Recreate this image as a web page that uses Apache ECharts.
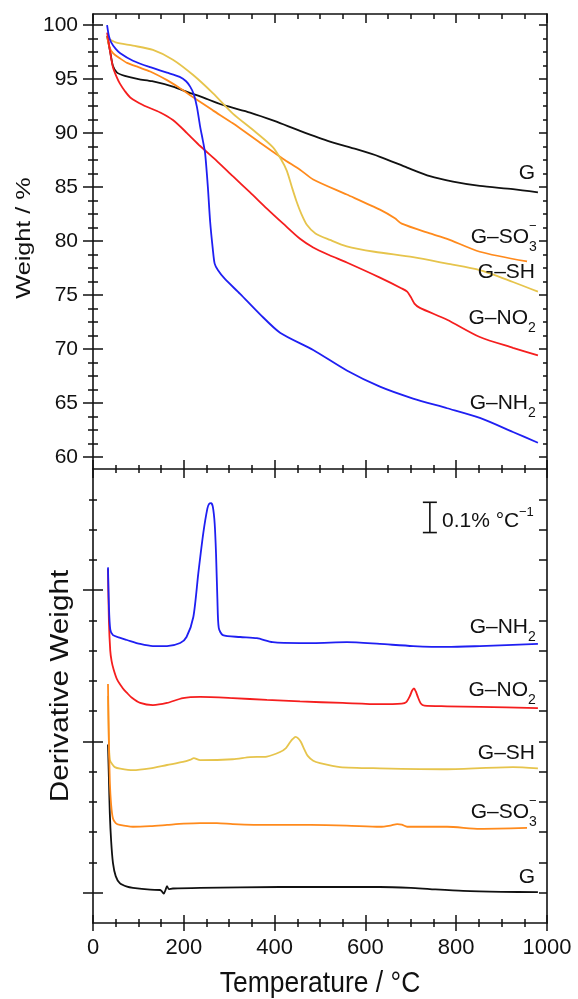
<!DOCTYPE html>
<html>
<head>
<meta charset="utf-8">
<script src="https://cdn.jsdelivr.net/npm/echarts@6/dist/echarts.min.js"></script>
<style>
  html, body { margin: 0; padding: 0; background: #fff; }
  #chart { width: 578px; height: 999px; }
</style>
</head>
<body>
<div id="chart"></div>
<script>
// ---------- TGA: weight (%) vs temperature (°C) ----------
var gTemp    = [31, 38, 44, 53, 70, 100, 130, 176, 214, 236, 286, 346, 401, 456, 522, 580, 632, 692, 742, 793, 852, 925, 980];
var gWeight  = [99.0, 97.5, 96.2, 95.6, 95.3, 95.0, 94.8, 94.3, 93.7, 93.4, 92.6, 91.9, 91.1, 90.2, 89.2, 88.5, 87.8, 86.8, 86.0, 85.5, 85.1, 84.8, 84.5];

var so3Temp   = [31, 36, 44, 60, 75, 100, 126, 163, 190, 214, 264, 308, 368, 419, 456, 485, 559, 632, 665, 680, 742, 780, 852, 956];
var so3Weight = [99.0, 98.0, 97.4, 96.9, 96.5, 96.1, 95.7, 94.9, 94.2, 93.5, 92.1, 90.9, 89.1, 87.6, 86.6, 85.7, 84.3, 82.9, 82.1, 81.6, 80.7, 80.2, 79.0, 78.1];

var shTemp   = [31, 50, 88, 132, 176, 220, 264, 308, 352, 396, 415, 427, 438, 448, 458, 471, 490, 522, 559, 620, 705, 780, 852, 925, 980];
var shWeight = [98.8, 98.4, 98.1, 97.7, 96.8, 95.4, 93.7, 91.8, 90.3, 88.7, 87.5, 86.5, 85.0, 83.7, 82.6, 81.5, 80.7, 80.1, 79.5, 79.0, 78.5, 77.9, 77.3, 76.2, 75.3];

var no2Temp   = [31, 34, 37, 44, 52, 59, 70, 82, 110, 148, 176, 207, 236, 273, 308, 346, 383, 419, 456, 485, 520, 559, 632, 680, 692, 700, 708, 720, 780, 852, 925, 980];
var no2Weight = [99.3, 98.6, 97.7, 96.1, 95.2, 94.6, 93.9, 93.3, 92.6, 91.9, 91.2, 90.0, 88.8, 87.4, 86.0, 84.5, 83.0, 81.6, 80.2, 79.4, 78.7, 78.0, 76.6, 75.6, 75.3, 74.8, 74.2, 73.8, 72.7, 71.1, 70.1, 69.4];

var nh2Temp   = [31, 35, 40, 50, 60, 88, 126, 163, 191, 205, 214, 222, 229, 236, 242, 247, 253, 258, 264, 268, 275, 290, 324, 368, 412, 485, 559, 632, 705, 780, 852, 925, 980];
var nh2Weight = [100, 99.0, 98.4, 97.8, 97.4, 96.7, 96.1, 95.6, 95.2, 94.8, 94.3, 93.6, 92.4, 90.6, 89.3, 88.1, 85.0, 81.8, 79.2, 77.9, 77.3, 76.5, 75.1, 73.2, 71.5, 69.9, 68.0, 66.5, 65.4, 64.5, 63.6, 62.3, 61.3];

// ---------- DTG: derivative weight, curves stacked with offsets ----------
var nh2DtgTemp = [33, 35, 38, 44, 60, 75, 104, 132, 163, 192, 206, 221, 232, 243, 252, 256, 260, 264, 268, 271, 274, 277, 286, 324, 361, 396, 456, 485, 559, 632, 705, 780, 852, 980];
var nh2Dtg     = [1.075, 0.95, 0.87, 0.851, 0.842, 0.835, 0.822, 0.815, 0.815, 0.825, 0.845, 0.911, 1.056, 1.189, 1.27, 1.285, 1.287, 1.275, 1.22, 1.12, 0.97, 0.875, 0.851, 0.845, 0.841, 0.828, 0.825, 0.825, 0.828, 0.822, 0.815, 0.812, 0.815, 0.822];

var no2DtgTemp = [33, 35, 38, 41, 45, 53, 66, 75, 85, 104, 132, 163, 198, 236, 308, 383, 456, 550, 632, 680, 690, 698, 703, 707, 711, 716, 722, 730, 780, 852, 980];
var no2Dtg     = [1.07, 0.90, 0.80, 0.765, 0.74, 0.705, 0.675, 0.66, 0.645, 0.627, 0.62, 0.627, 0.643, 0.647, 0.643, 0.637, 0.632, 0.627, 0.623, 0.625, 0.63, 0.65, 0.668, 0.675, 0.665, 0.645, 0.625, 0.618, 0.616, 0.614, 0.61];

var shDtgTemp = [33, 35, 37, 42, 48, 60, 88, 126, 163, 198, 215, 222, 236, 308, 346, 383, 412, 425, 434, 440, 446, 452, 458, 466, 473, 485, 500, 544, 632, 780, 925, 980];
var shDtg     = [0.65, 0.5, 0.44, 0.425, 0.415, 0.41, 0.405, 0.411, 0.422, 0.432, 0.44, 0.445, 0.438, 0.441, 0.448, 0.45, 0.465, 0.478, 0.497, 0.508, 0.515, 0.51, 0.498, 0.472, 0.452, 0.436, 0.428, 0.415, 0.411, 0.408, 0.415, 0.411];

var so3DtgTemp = [33, 35, 37, 40, 44, 50, 59, 88, 126, 163, 200, 236, 273, 308, 383, 480, 559, 632, 655, 670, 680, 692, 730, 780, 852, 956];
var so3Dtg     = [0.69, 0.50, 0.37, 0.29, 0.245, 0.23, 0.224, 0.218, 0.22, 0.224, 0.228, 0.23, 0.23, 0.227, 0.224, 0.224, 0.222, 0.218, 0.222, 0.227, 0.225, 0.218, 0.218, 0.218, 0.211, 0.214];

var gDtgTemp = [33, 35, 37, 40, 44, 50, 59, 75, 88, 126, 148, 152, 156, 160, 163, 167, 176, 236, 412, 632, 700, 742, 815, 900, 980];
var gDtg     = [0.49, 0.38, 0.263, 0.17, 0.098, 0.055, 0.032, 0.02, 0.016, 0.01, 0.009, 0.004, -0.003, 0.01, 0.022, 0.012, 0.014, 0.016, 0.019, 0.019, 0.016, 0.012, 0.006, 0.003, 0.002];

// scale bar: 0.1 % per °C, [temperature, low, high]
var scaleBar = [742, 1.19, 1.29];

// ---------- ticks ----------
var tempTicks   = [0, 200, 400, 600, 800, 1000];
var weightTicks = [60, 65, 70, 75, 80, 85, 90, 95, 100];
var dtgMajor    = [0, 0.5, 1.0];

var TEMP_RANGE   = [0, 1000];
var WEIGHT_RANGE = [58.87, 101.03];
var DTG_RANGE    = [-0.1, 1.4];

function steps(from, to, step) {
  var out = [];
  for (var v = from; v <= to + 1e-9; v += step) out.push(Math.round(v * 1000) / 1000);
  return out;
}
function notIn(list) {
  return function (v) { return list.indexOf(v) < 0; };
}
var tempMinor   = steps(0, 1000, 50).filter(notIn(tempTicks));
var weightMinor = steps(60, 100, 1.25).filter(notIn(weightTicks));
var dtgAll      = steps(0, 1.3, 0.1);
var dtgMinor    = dtgAll.filter(notIn(dtgMajor));

var FONT = '"Liberation Sans", Arial, Helvetica, sans-serif';
var INK = '#111';
var C_G = '#111111', C_SO3 = '#ff8a1c', C_SH = '#e6c44c', C_NO2 = '#f51e1e', C_NH2 = '#1f1ff2';

function zip(xs, ys) {
  var out = [];
  for (var i = 0; i < xs.length; i++) out.push([xs[i], ys[i]]);
  return out;
}

// one axis; several are stacked on the same edge to get ticks crossing the frame
function ax(grid, pos, range, o) {
  o = o || {};
  var a = {
    type: 'value', gridIndex: grid, position: pos, min: range[0], max: range[1],
    axisLine: { show: !!o.line, onZero: false, lineStyle: { color: INK, width: 1.6 } },
    axisTick: o.ticks ? { show: true, inside: !!o.inside, length: o.len, customValues: o.ticks,
                          lineStyle: { color: INK, width: 1.5 } } : { show: false },
    axisLabel: { show: false },
    splitLine: { show: false },
    minorTick: { show: false },
    axisPointer: { show: false }
  };
  if (o.labels) {
    a.axisLabel = { show: true, customValues: o.labels, margin: o.margin,
                    color: INK, fontFamily: FONT, fontSize: o.fontSize,
                    formatter: function (v) { return String(v); } };
  }
  return a;
}

var xAxes = [
  ax(0, 'bottom', TEMP_RANGE, { line: true, ticks: tempTicks, len: 9, inside: true }),   // 0 (series top)
  ax(0, 'bottom', TEMP_RANGE, { ticks: tempMinor, len: 4, inside: true }),
  ax(0, 'top',    TEMP_RANGE, { line: true, ticks: tempTicks, len: 9, inside: true }),
  ax(0, 'top',    TEMP_RANGE, { ticks: tempMinor, len: 5, inside: true }),
  ax(1, 'bottom', TEMP_RANGE, { line: true, ticks: tempTicks, len: 8, inside: false,
                                labels: tempTicks, margin: 14, fontSize: 22 }),        // 4 (series bottom)
  ax(1, 'bottom', TEMP_RANGE, { ticks: tempTicks, len: 8, inside: true }),
  ax(1, 'bottom', TEMP_RANGE, { ticks: tempMinor, len: 4, inside: false }),
  ax(1, 'bottom', TEMP_RANGE, { ticks: tempMinor, len: 4, inside: true }),
  ax(1, 'top',    TEMP_RANGE, { ticks: tempTicks, len: 9, inside: true }),
  ax(1, 'top',    TEMP_RANGE, { ticks: tempMinor, len: 4, inside: true })
];

var yAxes = [
  ax(0, 'left',  WEIGHT_RANGE, { line: true, ticks: weightTicks, len: 10, inside: false,
                                 labels: weightTicks, margin: 15, fontSize: 21 }),     // 0 (series top)
  ax(0, 'left',  WEIGHT_RANGE, { ticks: weightTicks, len: 10, inside: true }),
  ax(0, 'left',  WEIGHT_RANGE, { ticks: weightMinor, len: 5, inside: false }),
  ax(0, 'left',  WEIGHT_RANGE, { ticks: weightMinor, len: 5, inside: true }),
  ax(0, 'right', WEIGHT_RANGE, { line: true, ticks: weightTicks, len: 8, inside: true }),
  ax(0, 'right', WEIGHT_RANGE, { ticks: weightMinor, len: 4, inside: true }),
  ax(1, 'left',  DTG_RANGE, { line: true, ticks: dtgMajor, len: 10, inside: false }),   // 6 (series bottom)
  ax(1, 'left',  DTG_RANGE, { ticks: dtgMajor, len: 10, inside: true }),
  ax(1, 'left',  DTG_RANGE, { ticks: dtgMinor, len: 4, inside: false }),
  ax(1, 'left',  DTG_RANGE, { ticks: dtgMinor, len: 4, inside: true }),
  ax(1, 'right', DTG_RANGE, { line: true, ticks: dtgAll, len: 8, inside: true })
];

function line(name, temps, vals, color, xi, yi) {
  return {
    type: 'line', name: name, xAxisIndex: xi, yAxisIndex: yi,
    data: zip(temps, vals), showSymbol: false, symbol: 'none',
    smooth: 0.25, lineStyle: { color: color, width: 1.8 }, itemStyle: { color: color },
    silent: true, z: 2
  };
}

var series = [
  line('G',      gTemp,   gWeight,   C_G,   0, 0),
  line('G-SO3',  so3Temp, so3Weight, C_SO3, 0, 0),
  line('G-SH',   shTemp,  shWeight,  C_SH,  0, 0),
  line('G-NO2',  no2Temp, no2Weight, C_NO2, 0, 0),
  line('G-NH2',  nh2Temp, nh2Weight, C_NH2, 0, 0),
  line('G dtg',     gDtgTemp,   gDtg,   C_G,   4, 6),
  line('G-SH dtg',  shDtgTemp,  shDtg,  C_SH,  4, 6),
  line('G-SO3 dtg', so3DtgTemp, so3Dtg, C_SO3, 4, 6),
  line('G-NO2 dtg', no2DtgTemp, no2Dtg, C_NO2, 4, 6),
  line('G-NH2 dtg', nh2DtgTemp, nh2Dtg, C_NH2, 4, 6),
  {
    type: 'custom', xAxisIndex: 4, yAxisIndex: 6, silent: true, z: 3,
    data: [scaleBar],
    renderItem: function (params, api) {
      var lo = api.coord([api.value(0), api.value(1)]);
      var hi = api.coord([api.value(0), api.value(2)]);
      var st = { stroke: INK, lineWidth: 1.6 };
      return { type: 'group', children: [
        { type: 'line', shape: { x1: lo[0], y1: lo[1], x2: hi[0], y2: hi[1] }, style: st },
        { type: 'line', shape: { x1: lo[0] - 7, y1: lo[1], x2: lo[0] + 7, y2: lo[1] }, style: st },
        { type: 'line', shape: { x1: hi[0] - 7, y1: hi[1], x2: hi[0] + 7, y2: hi[1] }, style: st }
      ] };
    }
  }
];

// ---------- text ----------
function txt(str, x, y, size, align, extra) {
  var el = {
    type: 'text', x: x, y: y, silent: true, z: 10,
    style: { text: str, fill: INK, font: size + 'px ' + FONT,
             textAlign: align, textVerticalAlign: 'middle', align: align, verticalAlign: 'middle' }
  };
  if (extra) for (var k in extra) el[k] = extra[k];
  return el;
}
// label with optional subscript / superscript at its right end
function tag(main, sub, sup, right, cy) {
  var out = [];
  if (!sub && !sup) { out.push(txt(main, right, cy, 21, 'right')); return out; }
  out.push(txt(main, right - 7, cy, 21, 'right'));
  if (sub) out.push(txt(sub, right - 7, cy + 10, 14, 'left'));
  if (sup) out.push(txt(sup, right - 7, cy - 11, 13, 'left'));
  return out;
}

var graphics = [].concat(
  tag('G', null, null, 535, 173),
  tag('G\u2013SO', '3', '\u2212', 536, 237),
  tag('G\u2013SH', null, null, 535, 272),
  tag('G\u2013NO', '2', null, 535, 318),
  tag('G\u2013NH', '2', null, 535, 403),
  tag('G\u2013NH', '2', null, 535, 627),
  tag('G\u2013NO', '2', null, 535, 690),
  tag('G\u2013SH', null, null, 535, 753),
  tag('G\u2013SO', '3', '\u2212', 536, 812),
  tag('G', null, null, 535, 877),
  [
    txt('0.1% \u00b0C', 442, 521, 21, 'left'),
    txt('\u22121', 519, 512, 13, 'left'),
    txt('Weight / %', 24, 238, 21, 'center', { rotation: Math.PI / 2, scaleX: 1.2 }),
    txt('Derivative Weight', 61, 686, 25, 'center', { rotation: Math.PI / 2, scaleX: 1.19 }),
    txt('Temperature / \u00b0C', 320, 984, 26.5, 'center', { scaleY: 1.1 })
  ]
);

var chart = echarts.init(document.getElementById('chart'));
chart.setOption({
  animation: false,
  backgroundColor: '#fff',
  textStyle: { fontFamily: FONT },
  grid: [
    { left: 93, top: 14, width: 454, height: 455, containLabel: false },
    { left: 93, top: 469, width: 454, height: 454, containLabel: false }
  ],
  xAxis: xAxes,
  yAxis: yAxes,
  series: series,
  graphic: { elements: graphics }
});
</script>
</body>
</html>
